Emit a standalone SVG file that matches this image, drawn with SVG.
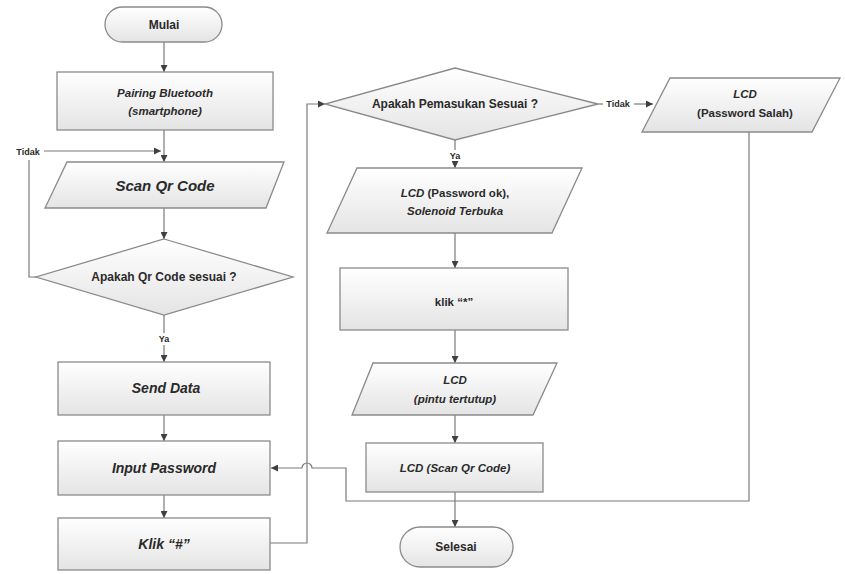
<svg xmlns="http://www.w3.org/2000/svg" width="845" height="574" viewBox="0 0 845 574">
<defs>
<linearGradient id="g" x1="0" y1="0" x2="0" y2="1">
<stop offset="0" stop-color="#ffffff"/>
<stop offset="1" stop-color="#e4e4e4"/>
</linearGradient>
<marker id="ah" viewBox="0 0 10 10" refX="10" refY="5" markerWidth="7" markerHeight="7" orient="auto" markerUnits="userSpaceOnUse">
<path d="M0,0 L10,5 L0,10 z" fill="#404040"/>
</marker>
</defs>
<style>
.s{fill:url(#g);stroke:#8a8a8a;stroke-width:1.3}
.c{fill:none;stroke:#7a7a7a;stroke-width:1.2}
.a{marker-end:url(#ah)}
text{font-family:"Liberation Sans",Arial,sans-serif;font-weight:bold;fill:#2a2a2a;text-anchor:middle}
.i{font-style:italic}
.sm{font-size:9px}
.lb{fill:#ffffff;stroke:none}
</style>
<rect width="845" height="574" fill="#ffffff"/>

<g id="connectors">
<path class="c a" d="M164,42 V72"/>
<path class="c a" d="M164,130 V162"/>
<path class="c a" d="M164,208 V239"/>
<path class="c" d="M164,315 V333"/>
<path class="c a" d="M164,345 V362"/>
<path class="c a" d="M164,415 V441"/>
<path class="c a" d="M164,495 V518"/>
<path class="c" d="M36,277 H29 V160"/>
<path class="c a" d="M44,151 H161"/>
<path class="c a" d="M270,543 H307 V104 H325"/>
<path class="c" d="M598,104 H603"/>
<path class="c a" d="M634,104 H653"/>
<path class="c" d="M455,140 V150"/>
<path class="c a" d="M455,162 V168"/>
<path class="c a" d="M455,233 V268"/>
<path class="c a" d="M455,330 V363"/>
<path class="c a" d="M455,415 V443"/>
<path class="c a" d="M455,492 V527"/>
<path class="c a" d="M749,132 V501 H346 V468 H312 A5,5 0 0 0 302,468 H271"/>
<text class="sm" x="164" y="342">Ya</text>
<text class="sm" x="455" y="159">Ya</text>
<text class="sm" x="28" y="155">Tidak</text>
<text class="sm" x="618" y="107">Tidak</text>
</g>

<g id="mulai">
<rect class="s" x="105" y="7" width="117" height="35" rx="17.5"/>
<text x="164" y="29" font-size="12">Mulai</text>
</g>
<g id="pairing">
<rect class="s" x="57" y="72" width="216" height="58"/>
<text class="i" x="165" y="97" font-size="11.5">Pairing Bluetooth</text>
<text class="i" x="165" y="115" font-size="11.5">(smartphone)</text>
</g>
<g id="scan">
<polygon class="s" points="67,162 284,162 266,208 45,208"/>
<text class="i" x="165" y="191" font-size="15">Scan Qr Code</text>
</g>
<g id="cek-qr">
<polygon class="s" points="164,239 293,277 164,315 36,277"/>
<text x="164" y="281" font-size="12">Apakah Qr Code sesuai ?</text>
</g>
<g id="send">
<rect class="s" x="58" y="362" width="212" height="53"/>
<text class="i" x="166" y="393" font-size="14">Send Data</text>
</g>
<g id="input">
<rect class="s" x="58" y="441" width="212" height="54"/>
<text class="i" x="164" y="473" font-size="14">Input Password</text>
</g>
<g id="klik-hash">
<rect class="s" x="58" y="518" width="212" height="52"/>
<text class="i" x="164" y="549" font-size="14">Klik “#”</text>
</g>
<g id="cek-pass">
<polygon class="s" points="455,68 598,104 455,140 325,104"/>
<text x="455" y="108" font-size="12">Apakah Pemasukan Sesuai ?</text>
</g>
<g id="lcd-ok">
<polygon class="s" points="357,168 582,168 552,233 327,233"/>
<text x="455" y="197" font-size="11.5"><tspan class="i">LCD</tspan> (Password ok),</text>
<text class="i" x="455" y="215" font-size="11.5">Solenoid Terbuka</text>
</g>
<g id="klik-star">
<rect class="s" x="340" y="268" width="228" height="62"/>
<text x="454" y="306" font-size="11.5">klik “*”</text>
</g>
<g id="lcd-tutup">
<polygon class="s" points="373,363 557,363 533,415 352,415"/>
<text class="i" x="455" y="384" font-size="11.5">LCD</text>
<text class="i" x="455" y="403" font-size="11.5">(pintu tertutup)</text>
</g>
<g id="lcd-scan">
<rect class="s" x="366" y="443" width="177" height="49"/>
<text class="i" x="455" y="472" font-size="11.5">LCD (Scan Qr Code)</text>
</g>
<g id="selesai">
<rect class="s" x="400" y="527" width="113" height="40" rx="20"/>
<text x="456" y="551" font-size="12">Selesai</text>
</g>
<g id="lcd-salah">
<polygon class="s" points="670,78 840,78 812,132 642,132"/>
<text class="i" x="745" y="98" font-size="11.5">LCD</text>
<text x="745" y="117" font-size="11.5" font-weight="normal">(Password Salah)</text>
</g>
</svg>
